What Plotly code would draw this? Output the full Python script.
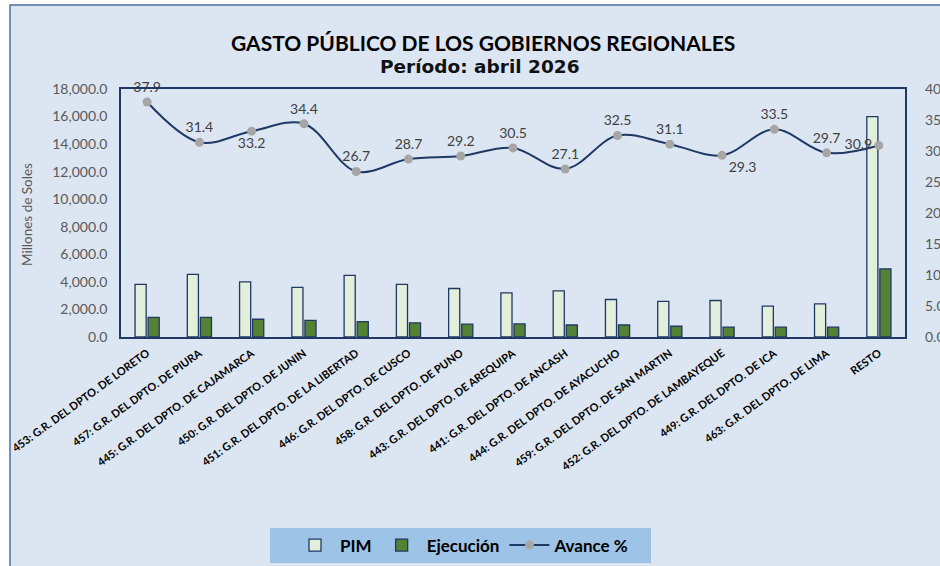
import plotly.graph_objects as go

categories = [
    "453: G.R. DEL DPTO. DE LORETO",
    "457: G.R. DEL DPTO. DE PIURA",
    "445: G.R. DEL DPTO. DE CAJAMARCA",
    "450: G.R. DEL DPTO. DE JUNIN",
    "451: G.R. DEL DPTO. DE LA LIBERTAD",
    "446: G.R. DEL DPTO. DE CUSCO",
    "458: G.R. DEL DPTO. DE PUNO",
    "443: G.R. DEL DPTO. DE AREQUIPA",
    "441: G.R. DEL DPTO. DE ANCASH",
    "444: G.R. DEL DPTO. DE AYACUCHO",
    "459: G.R. DEL DPTO. DE SAN MARTIN",
    "452: G.R. DEL DPTO. DE LAMBAYEQUE",
    "449: G.R. DEL DPTO. DE ICA",
    "463: G.R. DEL DPTO. DE LIMA",
    "RESTO",
]
pim = [3820, 4550, 4000, 3600, 4470, 3820, 3520, 3200, 3350, 2720, 2580, 2650, 2240, 2400, 16000]
ejecucion = [1430, 1430, 1290, 1200, 1120, 1020, 930, 950, 870, 870, 780, 710, 710, 710, 4950]
avance = [37.9, 31.4, 33.2, 34.4, 26.7, 28.7, 29.2, 30.5, 27.1, 32.5, 31.1, 29.3, 33.5, 29.7, 30.9]
label_pos = ["top center", "top center", "bottom center", "top center", "top center",
             "top center", "top center", "top center", "top center", "top center",
             "top center", "bottom right", "top center", "top center", "middle left"]

NAVY = "#1F3864"
FONT = "Lato"

# plot-area pixel geometry (viewport)
PL, PR, PT, PB = 121, 905, 89, 337
PW, PH = PR - PL, PB - PT


def px(x):
    return (x - PL) / PW


def py(y):
    return (PB - y) / PH


fig = go.Figure()
fig.add_trace(go.Bar(
    x=categories, y=pim, name="PIM",
    marker=dict(color="#E2EFDA", line=dict(color=NAVY, width=1.3)),
))
fig.add_trace(go.Bar(
    x=categories, y=ejecucion, name="Ejecución",
    marker=dict(color="#548235", line=dict(color=NAVY, width=1.3)),
))
fig.add_trace(go.Scatter(
    x=categories, y=avance, name="Avance %", yaxis="y2",
    mode="lines+markers+text",
    line=dict(color=NAVY, width=2, shape="spline", smoothing=1.0),
    marker=dict(color="#A6A6A6", size=9),
    text=[f"{v:.1f}" for v in avance], textposition=label_pos,
    textfont=dict(family=FONT, size=14, color="#404040"),
    cliponaxis=False,
))

fig.update_layout(
    width=940, height=566,
    template="none",
    paper_bgcolor="white",
    plot_bgcolor="white",
    margin=dict(l=PL, r=940 - PR, t=PT, b=566 - PB, autoexpand=False),
    barmode="group", bargap=0.5, bargroupgap=0.15,
    showlegend=True,
    legend=dict(
        orientation="h", x=px(462), xanchor="center", y=py(545.5), yanchor="middle",
        bgcolor="rgba(0,0,0,0)", font=dict(family=FONT, size=17, color="black", weight="bold"),
        itemwidth=40, borderwidth=0,
    ),
    xaxis=dict(
        range=[-0.5, len(categories) - 0.5], autorange=False,
        showline=True, linecolor=NAVY, linewidth=1.5, mirror=True,
        showgrid=False, ticks="", tickangle=-36,
        tickfont=dict(family=FONT, size=11, color="black", weight="bold"),
        ticklabelstandoff=4, automargin=False,
    ),
    yaxis=dict(
        range=[0, 18000], dtick=2000, tickformat=",.1f",
        showline=True, linecolor=NAVY, linewidth=1.5, mirror=True,
        showgrid=False, zeroline=False, ticks="",
        tickfont=dict(family=FONT, size=14, color="#595959"),
        ticklabelstandoff=9, automargin=False,
    ),
    yaxis2=dict(
        range=[0, 40], dtick=5, tickformat=".1f", overlaying="y", side="right",
        showline=False, showgrid=False, zeroline=False, ticks="",
        tickfont=dict(family=FONT, size=14, color="#595959"),
        ticklabelstandoff=19, automargin=False,
    ),
    shapes=[
        dict(type="rect", xref="paper", yref="paper",
             x0=px(10), x1=px(948), y0=py(575), y1=py(5),
             fillcolor="#DCE6F2", line=dict(color="#4A6FA5", width=1.5), layer="below"),
        dict(type="rect", xref="paper", yref="paper",
             x0=px(270), x1=px(651), y0=py(563), y1=py(528),
             fillcolor="#9DC3E6", line=dict(width=0), layer="below"),
    ],
    annotations=[
        dict(text="<b>GASTO PÚBLICO DE LOS GOBIERNOS REGIONALES</b>", xref="paper", yref="paper",
             x=px(483), y=py(42), showarrow=False,
             font=dict(family=FONT, size=21, color="black"), xanchor="center", yanchor="middle"),
        dict(text="<b>Período:\u00a0abril\u00a02026</b>", xref="paper", yref="paper",
             x=px(480), y=py(66), showarrow=False,
             font=dict(family="DejaVu Sans", size=18.5, color="#111111"), xanchor="center", yanchor="middle"),
        dict(text="Millones de Soles", xref="paper", yref="paper",
             x=px(27), y=py(215), showarrow=False, textangle=-90,
             font=dict(family=FONT, size=13.5, color="#595959"), xanchor="center", yanchor="middle"),
    ],
)

fig.write_html(
    "out.html",
    config={"displayModeBar": False},
    post_script="document.body.style.margin='0px';document.documentElement.style.overflow='hidden';",
)
